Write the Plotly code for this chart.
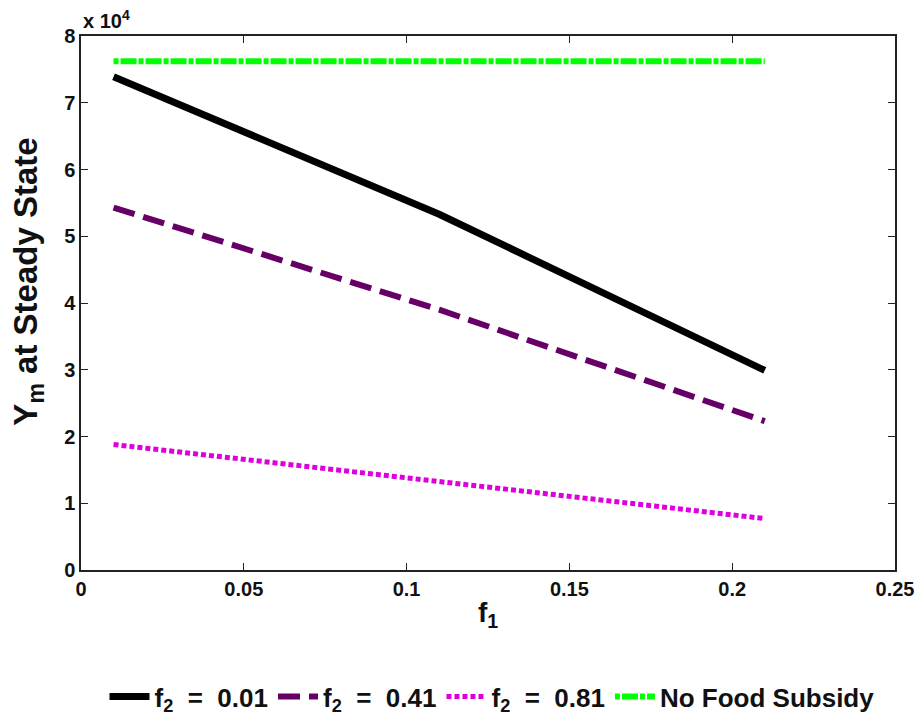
import plotly.graph_objects as go

f1 = [0.01, 0.11, 0.21]
y_f2_001 = [73900, 53300, 29900]
y_f2_041 = [54300, 39000, 22300]
y_f2_081 = [18800, 13300, 7700]
y_nofood = [76200, 76200, 76200]

names = ["f<sub>2</sub>&nbsp; = &nbsp;0.01", "f<sub>2</sub>&nbsp; = &nbsp;0.41",
         "f<sub>2</sub>&nbsp; = &nbsp;0.81", "No Food Subsidy"]
colors = ["#000000", "#660066", "#DD00DD", "#00FF00"]

xticks = [0, 0.05, 0.1, 0.15, 0.2, 0.25]
xticktext = ["0", "0.05", "0.1", "0.15", "0.2", "0.25"]
yticks = [0, 10000, 20000, 30000, 40000, 50000, 60000, 70000, 80000]
yticktext = ["0", "1", "2", "3", "4", "5", "6", "7", "8"]

FONT = "Liberation Sans"

fig = go.Figure()
fig.add_trace(go.Scatter(x=f1, y=y_f2_001, mode="lines", name=names[0],
                         line=dict(color=colors[0], width=7)))
fig.add_trace(go.Scatter(x=f1, y=y_f2_041, mode="lines", name=names[1],
                         line=dict(color=colors[1], width=6, dash="22px,9px")))
fig.add_trace(go.Scatter(x=f1, y=y_f2_081, mode="lines", name=names[2],
                         line=dict(color=colors[2], width=5, dash="5px,3px")))
fig.add_trace(go.Scatter(x=f1, y=y_nofood, mode="lines", name=names[3],
                         line=dict(color=colors[3], width=6, dash="5px,2px,16px,2px")))

axis_common = dict(showline=True, linecolor="#222", linewidth=1.5, mirror="ticks",
                   ticks="inside", ticklen=7, tickcolor="#222", tickwidth=1,
                   showgrid=False, zeroline=False,
                   tickfont=dict(family=FONT, size=20, color="#111", weight="bold"))

fig.update_layout(
    width=915, height=721,
    margin=dict(l=81, r=20, t=36, b=151, autoexpand=False),
    paper_bgcolor="white", plot_bgcolor="white",
    font=dict(family=FONT, color="#111"),
    showlegend=True,
    legend=dict(orientation="h", x=0.5377, xanchor="center", xref="container",
                y=0.034, yanchor="middle", yref="container",
                font=dict(family=FONT, size=26, color="#111", weight="bold"),
                itemwidth=40, tracegroupgap=0),
    xaxis=dict(range=[0, 0.25], tickvals=xticks, ticktext=xticktext,
               title=dict(text="f<sub>1</sub>", font=dict(family=FONT, size=28, weight="bold"), standoff=4),
               **axis_common),
    yaxis=dict(range=[0, 80000], tickvals=yticks, ticktext=yticktext,
               **axis_common),
    annotations=[
        dict(text="x 10<sup>4</sup>", xref="paper", yref="paper",
             x=0, y=1, xanchor="left", yanchor="bottom", yshift=2,
             showarrow=False, font=dict(family=FONT, size=20, color="#111", weight="bold")),
        dict(text="Y<sub>m</sub> at Steady State", xref="paper", yref="paper",
             x=0, y=0.54, xanchor="center", yanchor="middle", xshift=-53,
             textangle=-90, showarrow=False,
             font=dict(family=FONT, size=33, color="#111", weight="bold")),
    ],
)

fig.write_html("out.html")
